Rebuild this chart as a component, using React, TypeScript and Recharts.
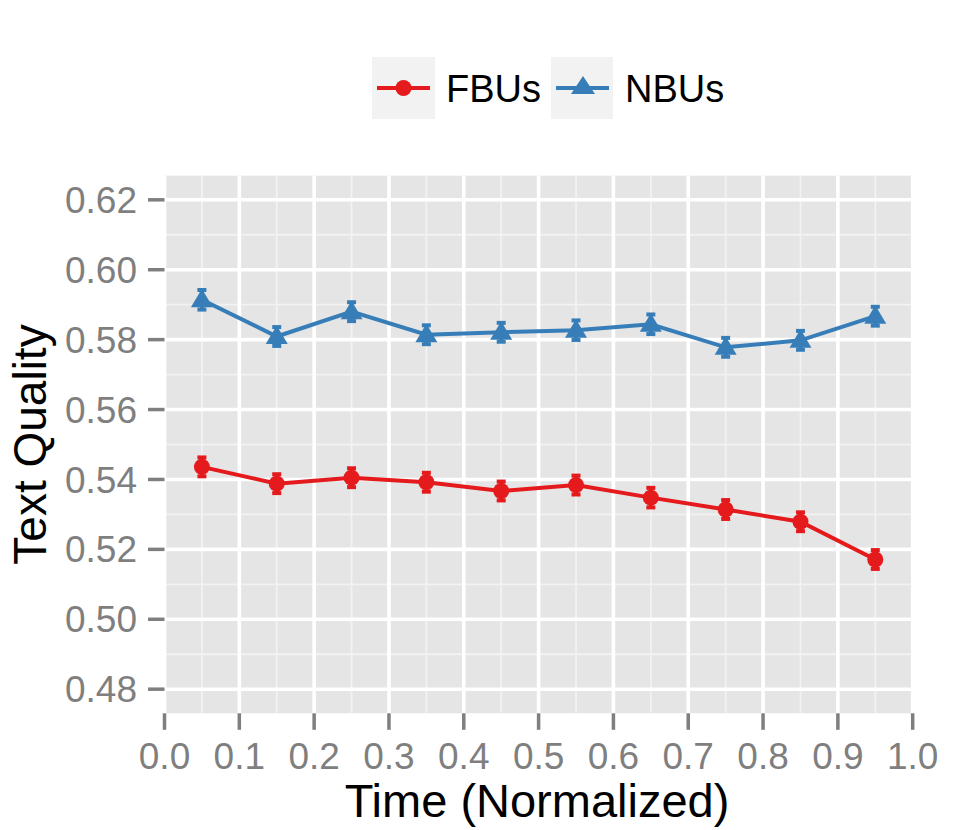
import React from "react";
import {
  ComposedChart,
  Line,
  XAxis,
  YAxis,
  CartesianGrid,
  ErrorBar,
  Legend,
  Label,
} from "recharts";

// time bins (normalized) and mean text quality per group
const timeBins = [0.05, 0.15, 0.25, 0.35, 0.45, 0.55, 0.65, 0.75, 0.85, 0.95];
const fbuQuality = [0.5436, 0.5388, 0.5405, 0.5392, 0.5367, 0.5384, 0.5348, 0.5314, 0.5279, 0.5171];
const nbuQuality = [0.5914, 0.5809, 0.588, 0.5814, 0.5821, 0.5827, 0.5844, 0.5778, 0.5798, 0.5867];
const fbuErr = [0.0027, 0.0027, 0.0027, 0.0027, 0.0027, 0.0027, 0.0028, 0.0027, 0.0027, 0.0027];
const nbuErr = [0.0028, 0.0027, 0.0027, 0.0027, 0.0027, 0.0028, 0.0028, 0.0027, 0.0027, 0.0027];

const xTicks = [0, 0.1, 0.2, 0.3, 0.4, 0.5, 0.6, 0.7, 0.8, 0.9, 1.0];
const xMinor = [0.05, 0.15, 0.25, 0.35, 0.45, 0.55, 0.65, 0.75, 0.85, 0.95];
const yTicks = [0.48, 0.5, 0.52, 0.54, 0.56, 0.58, 0.6, 0.62];
const yMinor = [0.49, 0.51, 0.53, 0.55, 0.57, 0.59, 0.61];

const data = timeBins.map((t, i) => ({
  t,
  fbu: fbuQuality[i],
  nbu: nbuQuality[i],
  fErr: fbuErr[i],
  nErr: nbuErr[i],
}));

const RED = "#E41A1C";
const BLUE = "#377EB8";
const FONT = "'Liberation Sans', Arial, Helvetica, sans-serif";

const CircleDot = (props: any) => {
  const { cx, cy, index } = props;
  return <circle key={`c${index}`} cx={cx} cy={cy} r={8} fill={RED} />;
};

const TriangleDot = (props: any) => {
  const { cx, cy, index } = props;
  const pts = `${cx},${cy - 11} ${cx - 11},${cy + 7.5} ${cx + 11},${cy + 7.5}`;
  return <polygon key={`t${index}`} points={pts} fill={BLUE} />;
};

const renderLegend = () => (
  <svg width={969} height={130} style={{ display: "block" }}>
    {/* FBUs key */}
    <rect x={372} y={57} width={63} height={62} fill="#F2F2F2" />
    <line x1={377} x2={430} y1={88} y2={88} stroke={RED} strokeWidth={4} />
    <circle cx={403.5} cy={88} r={8} fill={RED} />
    <text x={446} y={101.5} fontSize={38} fontFamily={FONT} fill="#000">
      FBUs
    </text>
    {/* NBUs key */}
    <rect x={551} y={57} width={62} height={62} fill="#F2F2F2" />
    <line x1={556} x2={609} y1={88} y2={88} stroke={BLUE} strokeWidth={4} />
    <polygon points="583,76 571,94 595,94" fill={BLUE} />
    <text x={625} y={101.5} fontSize={38} fontFamily={FONT} fill="#000">
      NBUs
    </text>
  </svg>
);

const tickStyle = { fontSize: 37, fill: "#7F7F7F", fontFamily: FONT };

export default function App() {
  return (
    <div
      style={{
        position: "absolute",
        left: 0,
        top: 0,
        width: 969,
        height: 830,
        background: "#fff",
      }}
    >
      <ComposedChart
        width={969}
        height={830}
        data={data}
        margin={{ top: 175.7, right: 56.3, bottom: 0, left: 0 }}
      >
        {/* minor grid + panel background */}
        <CartesianGrid
          fill="#E5E5E5"
          stroke="#F2F2F2"
          strokeWidth={1.8}
          verticalValues={xMinor}
          horizontalValues={yMinor}
        />
        {/* major grid */}
        <CartesianGrid
          stroke="#FFFFFF"
          strokeWidth={3.6}
          verticalValues={xTicks}
          horizontalValues={yTicks}
        />

        <XAxis
          type="number"
          dataKey="t"
          domain={[0, 1]}
          ticks={xTicks}
          allowDataOverflow
          tickFormatter={(v: number) => v.toFixed(1)}
          axisLine={false}
          tickLine={{ stroke: "#7F7F7F", strokeWidth: 3.5 }}
          tickSize={16.5}
          tickMargin={13}
          tick={tickStyle}
          height={116.7}
          interval={0}
        >
          <Label
            content={() => (
              <text
                x={537}
                y={816.5}
                textAnchor="middle"
                fontSize={47}
                fontFamily={FONT}
                fill="#000"
              >
                Time (Normalized)
              </text>
            )}
          />
        </XAxis>

        <YAxis
          type="number"
          domain={[0.4731, 0.6269]}
          ticks={yTicks}
          allowDataOverflow
          tickFormatter={(v: number) => v.toFixed(2)}
          axisLine={false}
          tickLine={{ stroke: "#7F7F7F", strokeWidth: 3.5 }}
          tickSize={16.5}
          tickMargin={11}
          tick={tickStyle}
          width={164.5}
          interval={0}
        >
          <Label
            content={() => (
              <text
                transform="translate(46,444.5) rotate(-90)"
                textAnchor="middle"
                fontSize={46}
                fontFamily={FONT}
                fill="#000"
              >
                Text Quality
              </text>
            )}
          />
        </YAxis>

        <Legend
          verticalAlign="middle"
          align="center"
          layout="horizontal"
          content={renderLegend}
          wrapperStyle={{ position: "absolute", left: 0, top: 0, width: 969, height: 130 }}
        />

        <Line
          type="linear"
          dataKey="fbu"
          name="FBUs"
          stroke={RED}
          strokeWidth={4}
          dot={CircleDot}
          activeDot={false}
          isAnimationActive={false}
        >
          <ErrorBar dataKey="fErr" direction="y" width={4.5} strokeWidth={4} stroke={RED} />
        </Line>
        <Line
          type="linear"
          dataKey="nbu"
          name="NBUs"
          stroke={BLUE}
          strokeWidth={4}
          dot={TriangleDot}
          activeDot={false}
          isAnimationActive={false}
        >
          <ErrorBar dataKey="nErr" direction="y" width={4.5} strokeWidth={4} stroke={BLUE} />
        </Line>
      </ComposedChart>
    </div>
  );
}
